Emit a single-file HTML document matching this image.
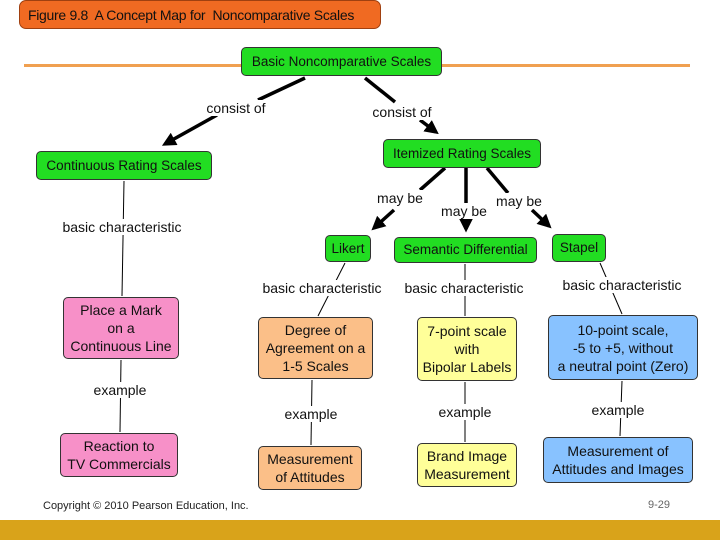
<!DOCTYPE html>
<html><head><meta charset="utf-8"><style>
body{margin:0;width:720px;height:540px;position:relative;background:#fff;font-family:"Liberation Sans",sans-serif;overflow:hidden}
.b{position:absolute;box-sizing:border-box;border:1px solid #333;border-radius:5px;display:flex;align-items:center;justify-content:center;text-align:center;font-size:14px;line-height:18px;color:#111}
.g{background:#22dd22;font-size:13.5px}
.p{background:#f790c8}.o{background:#fbbf88}.y{background:#ffff99}.bl{background:#88c2ff}
.l{position:absolute;font-size:14px;color:#111;white-space:nowrap;transform:translateX(-50%);background:#fff;line-height:16px}
</style></head><body>
<div class="b" style="left:19px;top:0;width:362px;height:29px;background:#f06a22;border-color:#a04010;border-radius:7px;justify-content:flex-start;padding-left:8px;font-size:14px;white-space:nowrap;letter-spacing:-0.3px">Figure 9.8&nbsp; A Concept Map for&nbsp; Noncomparative Scales</div>
<div style="position:absolute;left:24px;top:64px;width:666px;height:3px;background:#f0a050"></div>
<svg width="720" height="540" style="position:absolute;left:0;top:0">
<defs><marker id="a" markerWidth="4" markerHeight="4" refX="3" refY="2" orient="auto"><path d="M0,0 L4,2 L0,4z" fill="#000"/></marker></defs>
<g stroke="#000" stroke-width="3.5" fill="none">
<line x1="305" y1="78" x2="258" y2="100"/><line x1="217" y1="115" x2="165" y2="144" marker-end="url(#a)"/>
<line x1="365" y1="78" x2="395" y2="102"/><line x1="420" y1="120" x2="436" y2="132" marker-end="url(#a)"/>
<line x1="445" y1="168" x2="420" y2="190"/><line x1="394" y1="210" x2="374" y2="228" marker-end="url(#a)"/>
<line x1="466" y1="168" x2="466" y2="205"/><line x1="466" y1="222" x2="466" y2="229" marker-end="url(#a)"/>
<line x1="487" y1="168" x2="508" y2="193"/><line x1="532" y1="210" x2="549" y2="226" marker-end="url(#a)"/>
</g>
<g stroke="#000" stroke-width="1" fill="none">
<line x1="124" y1="181" x2="122" y2="296"/>
<line x1="121" y1="360" x2="120" y2="432"/>
<line x1="345" y1="263" x2="318" y2="316"/>
<line x1="312" y1="380" x2="311" y2="445"/>
<line x1="465" y1="264" x2="465" y2="316"/>
<line x1="465" y1="382" x2="465" y2="442"/>
<line x1="600" y1="263" x2="622" y2="314"/>
<line x1="622" y1="381" x2="620" y2="436"/>
</g></svg>
<div class="b g" style="left:241px;top:47px;width:201px;height:29px">Basic Noncomparative Scales</div>
<div class="b g" style="left:36px;top:151px;width:176px;height:29px">Continuous Rating Scales</div>
<div class="b g" style="left:383px;top:139px;width:158px;height:29px">Itemized Rating Scales</div>
<div class="b g" style="left:325px;top:235px;width:46px;height:27px">Likert</div>
<div class="b g" style="left:394px;top:237px;width:143px;height:26px">Semantic Differential</div>
<div class="b g" style="left:552px;top:234px;width:54px;height:28px">Stapel</div>
<div class="b p" style="left:63px;top:297px;width:116px;height:62px">Place a Mark<br>on a<br>Continuous Line</div>
<div class="b p" style="left:60px;top:433px;width:118px;height:44px">Reaction to<br>TV Commercials</div>
<div class="b o" style="left:258px;top:317px;width:115px;height:62px">Degree of<br>Agreement on a<br>1-5 Scales</div>
<div class="b o" style="left:258px;top:446px;width:104px;height:44px">Measurement<br>of Attitudes</div>
<div class="b y" style="left:417px;top:317px;width:100px;height:64px">7-point scale<br>with<br>Bipolar Labels</div>
<div class="b y" style="left:417px;top:443px;width:100px;height:44px">Brand Image<br>Measurement</div>
<div class="b bl" style="left:548px;top:315px;width:150px;height:65px">10-point scale,<br>-5 to +5, without<br>a neutral point (Zero)</div>
<div class="b bl" style="left:543px;top:437px;width:150px;height:46px">Measurement of<br>Attitudes and Images</div>
<div class="l" style="left:236px;top:100px">consist of</div>
<div class="l" style="left:402px;top:104px">consist of</div>
<div class="l" style="left:122px;top:219px">basic characteristic</div>
<div class="l" style="left:400px;top:190px">may be</div>
<div class="l" style="left:464px;top:203px">may be</div>
<div class="l" style="left:519px;top:193px">may be</div>
<div class="l" style="left:322px;top:280px">basic characteristic</div>
<div class="l" style="left:464px;top:280px">basic characteristic</div>
<div class="l" style="left:622px;top:277px">basic characteristic</div>
<div class="l" style="left:120px;top:382px">example</div>
<div class="l" style="left:311px;top:406px">example</div>
<div class="l" style="left:465px;top:404px">example</div>
<div class="l" style="left:618px;top:402px">example</div>
<div style="position:absolute;left:43px;top:500px;font-size:11px;color:#222">Copyright © 2010 Pearson Education, Inc.</div>
<div style="position:absolute;left:648px;top:499px;font-size:11px;color:#666">9-29</div>
<div style="position:absolute;left:0;top:520px;width:720px;height:20px;background:#d9a31a"></div>
</body></html>
